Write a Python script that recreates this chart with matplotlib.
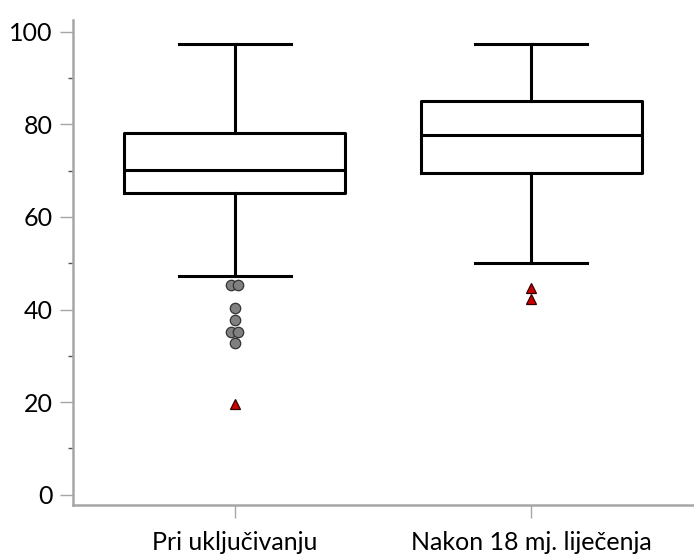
import matplotlib
matplotlib.use("Agg")
import matplotlib.pyplot as plt
import numpy as np

plt.rcParams['font.family'] = ['Lato', 'DejaVu Sans']

categories = ["Pri uključivanju", "Nakon 18 mj. liječenja"]
whisker_low = [47.3, 50.0]
q1 = [65.1, 69.5]
median = [70.1, 77.6]
q3 = [78.1, 85.0]
whisker_high = [97.4, 97.4]
# outliers (circles) and extreme values (triangles)
outliers = [[45.3, 45.3, 40.4, 37.7, 35.1, 35.1, 32.8], []]
extremes = [[19.7], [44.6, 42.2]]

fig = plt.figure(figsize=(6.94, 5.57), dpi=100)
ax = fig.add_axes([0.1048, 0.0934, 0.8952, 0.8706])

stats = []
for i in range(len(categories)):
    stats.append(dict(whislo=whisker_low[i], q1=q1[i], med=median[i],
                      q3=q3[i], whishi=whisker_high[i], fliers=[]))

lw = 2.2
positions = np.arange(len(categories))
ax.bxp(stats, positions=positions, widths=0.746, capwidths=0.378,
       showfliers=False,
       boxprops=dict(color='black', linewidth=lw),
       medianprops=dict(color='black', linewidth=lw),
       whiskerprops=dict(color='black', linewidth=lw),
       capprops=dict(color='black', linewidth=lw))

from matplotlib.transforms import offset_copy

def draw_points(vals, pos, **kw):
    # spread identical values side by side
    seen = {}
    for v in vals:
        seen[v] = seen.get(v, 0) + 1
    used = {}
    for v in vals:
        n = seen[v]
        k = used.get(v, 0)
        used[v] = k + 1
        dx = (k - (n - 1) / 2) * 7.5 if n > 1 else 0
        tr = offset_copy(ax.transData, fig=fig, x=dx, y=0, units='dots')
        ax.plot([pos], [v], transform=tr, linestyle='none', zorder=5, **kw)

for i, pos in enumerate(positions):
    draw_points(outliers[i], pos, marker='o', markersize=7.5,
                markerfacecolor='#808080', markeredgecolor='#333333',
                markeredgewidth=0.9)
    draw_points(extremes[i], pos, marker='^', markersize=7.5,
                markerfacecolor='#cc0000', markeredgecolor='#330000',
                markeredgewidth=0.9)

ax.set_xlim(-0.5467, 1.550)
ax.set_ylim(-2.2, 102.5)
ax.set_xticks(positions)
ax.set_xticklabels(categories)
ax.set_yticks([0, 20, 40, 60, 80, 100])
ax.set_yticks([10, 30, 50, 70, 90], minor=True)

for s in ['top', 'right']:
    ax.spines[s].set_visible(False)
for s in ['left', 'bottom']:
    ax.spines[s].set_color('#a6a6a6')
    ax.spines[s].set_linewidth(1.8)

ax.tick_params(axis='both', which='major', direction='out', length=9.5,
               width=1.0, color='#a6a6a6', labelsize=18, pad=5)
ax.tick_params(axis='y', which='minor', direction='out', length=3.5,
               width=1.0, color='#555555')
ax.tick_params(axis='x', which='major', pad=9)

fig.savefig("out.png", dpi=100)
